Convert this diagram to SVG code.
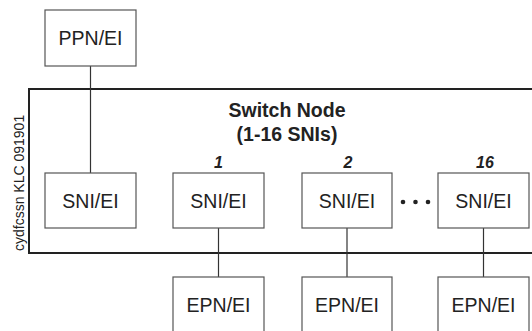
<svg xmlns="http://www.w3.org/2000/svg" width="532" height="331" viewBox="0 0 532 331">
<style>
.box{fill:#fff;stroke:#555;stroke-width:1.2}
.lbl{font-family:"Liberation Sans",Arial,sans-serif;font-size:19.5px;fill:#222;text-anchor:middle}
.num{font-family:"Liberation Sans",Arial,sans-serif;font-size:16px;font-weight:bold;font-style:italic;fill:#222;text-anchor:middle}
.title{font-family:"Liberation Sans",Arial,sans-serif;font-size:19.5px;font-weight:bold;fill:#222;text-anchor:middle}
.conn{stroke:#333;stroke-width:1.2;fill:none}
</style>
<rect width="532" height="331" fill="#fff"/>
<g id="switch-node">
<rect x="29" y="89" width="520" height="164" fill="none" stroke="#222" stroke-width="2"/>
<text class="title" x="287" y="117">Switch Node</text>
<text class="title" x="287" y="141">(1-16 SNIs)</text>
</g>
<g id="connectors">
<line class="conn" x1="90.5" y1="66" x2="90.5" y2="173"/>
<line class="conn" x1="218.5" y1="228" x2="218.5" y2="277" stroke="#666"/>
<line class="conn" x1="347" y1="228" x2="347" y2="277" stroke="#666"/>
<line class="conn" x1="483.5" y1="228" x2="483.5" y2="277"/>
</g>
<g id="ppn">
<rect class="box" x="45" y="10" width="91" height="56"/>
<text class="lbl" x="90.5" y="45">PPN/EI</text>
</g>
<g id="sni0">
<rect class="box" x="45" y="173" width="91" height="55"/>
<text class="lbl" x="90.5" y="208">SNI/EI</text>
</g>
<g id="sni1">
<rect class="box" x="173" y="173" width="91" height="55"/>
<text class="lbl" x="218.5" y="208">SNI/EI</text>
<text class="num" x="218.5" y="168">1</text>
</g>
<g id="sni2">
<rect class="box" x="302" y="173" width="90" height="55"/>
<text class="lbl" x="347" y="208">SNI/EI</text>
<text class="num" x="348" y="168">2</text>
</g>
<g id="ellipsis">
<circle cx="403" cy="202" r="2.3" fill="#222"/>
<circle cx="415.5" cy="202" r="2.3" fill="#222"/>
<circle cx="428" cy="202" r="2.3" fill="#222"/>
</g>
<g id="sni16">
<rect class="box" x="438" y="173" width="91" height="55"/>
<text class="lbl" x="483.5" y="208">SNI/EI</text>
<text class="num" x="485" y="168">16</text>
</g>
<g id="epn1">
<rect class="box" x="173" y="277" width="91" height="60"/>
<text class="lbl" x="218.5" y="312">EPN/EI</text>
</g>
<g id="epn2">
<rect class="box" x="302" y="277" width="90" height="60"/>
<text class="lbl" x="347" y="312">EPN/EI</text>
</g>
<g id="epn16">
<rect class="box" x="438" y="277" width="91" height="60"/>
<text class="lbl" x="483.5" y="312">EPN/EI</text>
</g>
<g id="stamp">
<text x="0" y="0" transform="translate(24,251) rotate(-90)" font-family="'Liberation Sans',Arial,sans-serif" font-size="14" fill="#222">cydfcssn KLC 091901</text>
</g>
</svg>
